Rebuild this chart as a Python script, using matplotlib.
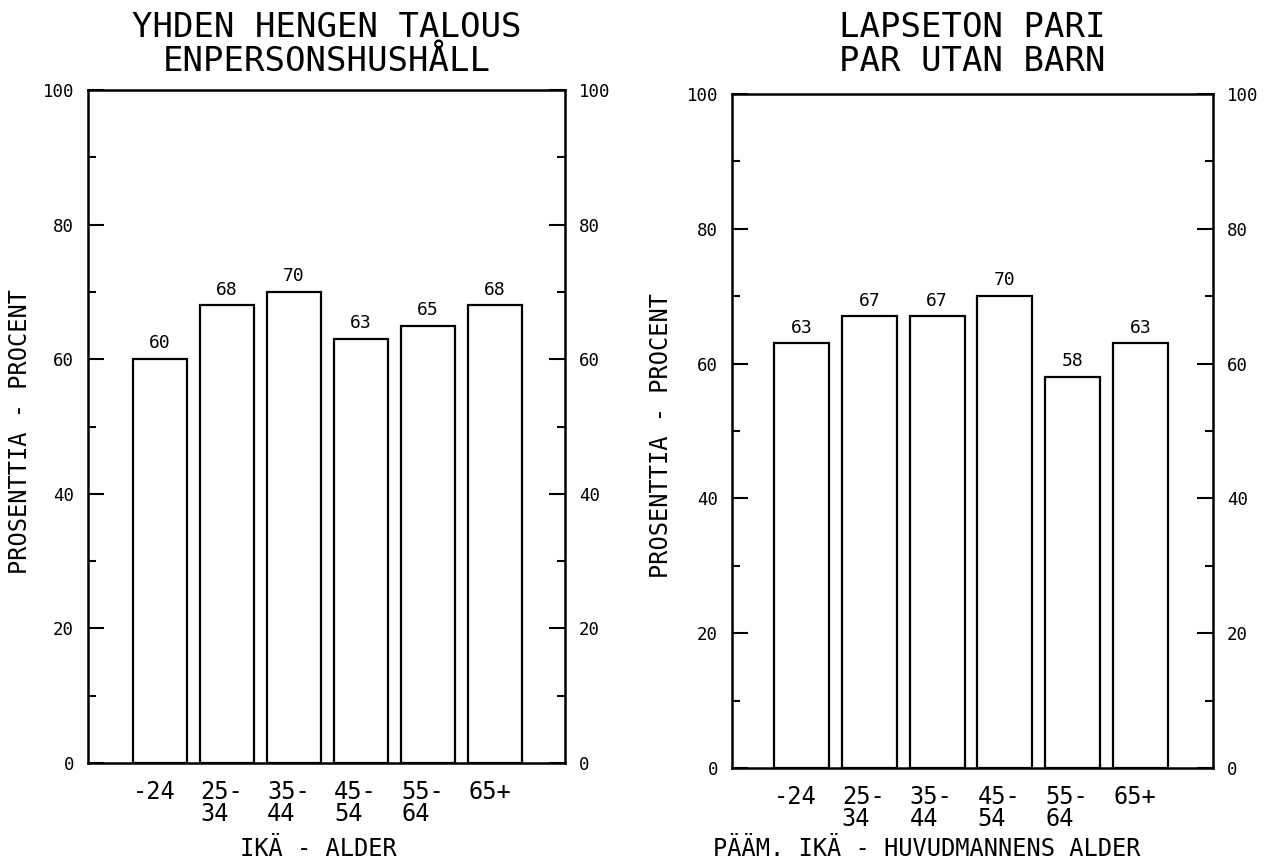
import matplotlib
matplotlib.use("Agg")
import matplotlib.pyplot as plt
from matplotlib.ticker import MultipleLocator

plt.rcParams['font.family'] = ['DejaVu Sans Mono', 'DejaVu Sans']

# ---- data ----
age_labels_left = ["-24", "25-\n34", "35-\n44", "45-\n54", "55-\n64", "65+"]
age_labels_right = ["-24", "25-\n34", "35-\n44", "45-\n54", "55-\n64", "65+"]
values_left = [60, 68, 70, 63, 65, 68]
values_right = [63, 67, 67, 70, 58, 63]
title_left = ["YHDEN HENGEN TALOUS", "ENPERSONSHUSHÅLL"]
title_right = ["LAPSETON PARI", "PAR UTAN BARN"]
xlabel_left = "IKÄ - ALDER"
xlabel_right = "PÄÄM. IKÄ - HUVUDMANNENS ALDER"
ylabel = "PROSENTTIA - PROCENT"

W, H = 1272, 865
fig = plt.figure(figsize=(W/100, H/100), dpi=100)

ax1 = fig.add_axes([88/W, 1-763/H, 477/W, 673/H])
ax2 = fig.add_axes([732/W, 1-768/H, 481/W, 674/H])


def draw(ax, values, labels, width, xlim, title_lines, xlabel, xl_coords, yl_coords):
    x = list(range(len(values)))
    bars = ax.bar(x, values, width=width, color='white', edgecolor='black', linewidth=1.6)
    for b, v in zip(bars, values):
        ax.text(b.get_x() + b.get_width()/2, v + 1.0, f"{v}", ha='center', va='bottom',
                fontsize=13)
    ax.set_xlim(*xlim)
    ax.set_ylim(0, 100)
    ax.set_xticks([xi - width/2 for xi in x])
    ax.set_xticklabels(labels, ha='left', fontsize=17, linespacing=0.9)
    ax.tick_params(axis='x', length=0, pad=12)
    ax.yaxis.set_major_locator(MultipleLocator(20))
    ax.yaxis.set_minor_locator(MultipleLocator(10))
    ax.tick_params(axis='y', which='both', direction='in', left=True, right=True,
                   labelleft=True, labelright=True, labelsize=12.5, width=1.5)
    ax.tick_params(axis='y', which='major', length=11.5, pad=10)
    ax.tick_params(axis='y', which='minor', length=5.8)
    for s in ax.spines.values():
        s.set_linewidth(1.8)
    ax.set_xlabel(xlabel, fontsize=17)
    ax.xaxis.set_label_coords(*xl_coords)
    ax.set_ylabel(ylabel, fontsize=17)
    ax.yaxis.set_label_coords(*yl_coords)
    # two-line title, positioned by baseline in figure pixels
    pos = ax.get_position()
    xc = (pos.x0 + pos.x1) / 2
    for line, base in zip(title_lines, (37, 71)):
        fig.text(xc, 1 - base/H, line, ha='center', va='baseline', fontsize=24.5)


draw(ax1, values_left, age_labels_left, 0.80, (-1.072, 6.04), title_left, xlabel_left,
     (0.484, -0.110), (-0.118, 0.492))
draw(ax2, values_right, age_labels_right, 0.81, (-1.025, 6.07), title_right, xlabel_right,
     (0.405, -0.103), (-0.122, 0.493))

fig.savefig("out.png", dpi=100)
